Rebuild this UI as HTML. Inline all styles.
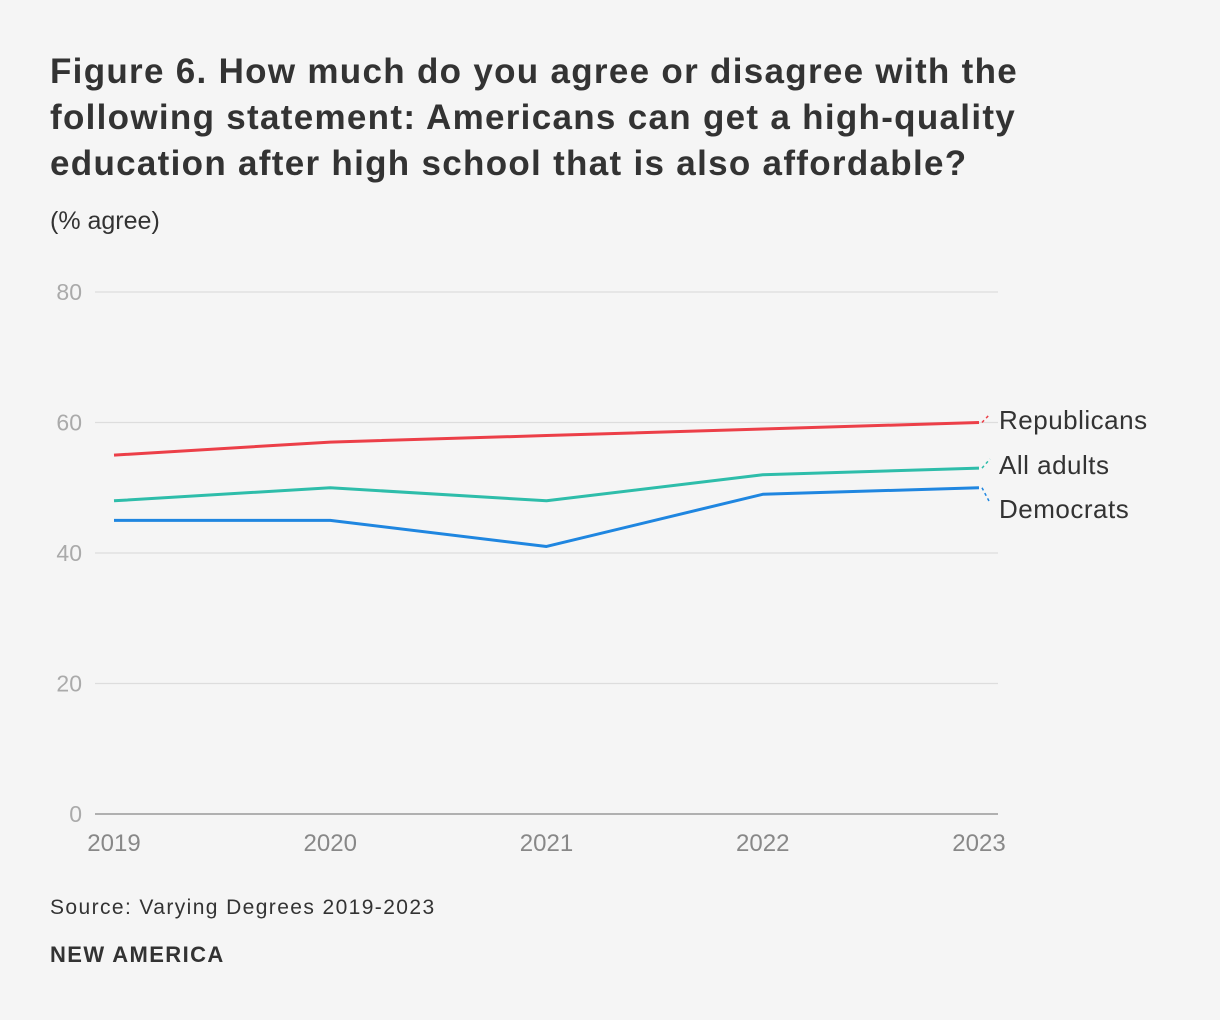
<!DOCTYPE html>
<html><head><meta charset="utf-8"><style>
body{margin:0;background:#f5f5f5;width:1220px;height:1020px;overflow:hidden;font-family:"Liberation Sans",sans-serif;color:#333}
h1{position:absolute;left:50px;top:49px;margin:0;font-size:35px;letter-spacing:1.3px;line-height:46px;font-weight:bold;color:#333;white-space:nowrap}
.sub{position:absolute;left:50px;top:207px;font-size:25px;color:#333}
.src{position:absolute;left:50px;top:896px;font-size:21px;letter-spacing:1.4px;color:#333}
.brand{position:absolute;left:50px;top:942px;font-size:22px;letter-spacing:1.4px;font-weight:bold;color:#333}
svg{position:absolute;left:0;top:0}
</style></head><body>
<h1>Figure 6. How much do you agree or disagree with the<br>following statement: Americans can get a high-quality<br>education after high school that is also affordable?</h1>
<div class="sub">(% agree)</div>
<svg id="chart" width="1220" height="1020"></svg>
<div class="src">Source: Varying Degrees 2019-2023</div>
<div class="brand">NEW AMERICA</div>
<script>
const years=["2019","2020","2021","2022","2023"];
const yTicks=[0,20,40,60,80];
const republicans=[55,57,58,59,60];
const allAdults=[48,50,48,52,53];
const democrats=[45,45,41,49,50];
const seriesNames=["Republicans","All adults","Democrats"];
const NS="http://www.w3.org/2000/svg";
const svg=document.getElementById('chart');
const x=i=>114+i*216.25;
const y=v=>814-v*6.525;
function el(t,a){const e=document.createElementNS(NS,t);for(const k in a)e.setAttribute(k,a[k]);svg.appendChild(e);return e;}
yTicks.forEach(t=>{
  const l=el('line',{x1:95,x2:998,y1:y(t),y2:y(t),stroke:t===0?'#999':'#ddd','stroke-width':t===0?1.5:1.2});
  
  
  const tx=el('text',{x:82,y:y(t)+8,'text-anchor':'end','font-size':23,fill:'#aaa','font-family':'Liberation Sans'});
  tx.textContent=t;
  
  
});
years.forEach((yr,i)=>{
  const tx=el('text',{x:x(i),y:851,'text-anchor':'middle','font-size':24,fill:'#888','font-family':'Liberation Sans'});
  tx.textContent=yr;
  
  
});
const series=[republicans,allAdults,democrats];
const colors=['#ec3f48','#2ebdaa','#1f86e0'];
const labelY=[420,465,509];
series.forEach((s,k)=>{
  const p=el('polyline',{points:s.map((v,i)=>x(i)+','+y(v)).join(' '),fill:'none',stroke:colors[k],'stroke-width':3,'stroke-linejoin':'round'});
  
  
  const last=y(s[s.length-1]);
  const c=el('line',{x1:x(4)+3,y1:last,x2:990,y2:labelY[k]-6,stroke:colors[k],'stroke-width':1.5,'stroke-dasharray':'3,3'});
  
  
  const t=el('text',{x:999,y:labelY[k]+9,'font-size':26,'letter-spacing':0.5,fill:'#333','font-family':'Liberation Sans'});
  t.textContent=seriesNames[k];
  
  
});
</script>
</body></html>
